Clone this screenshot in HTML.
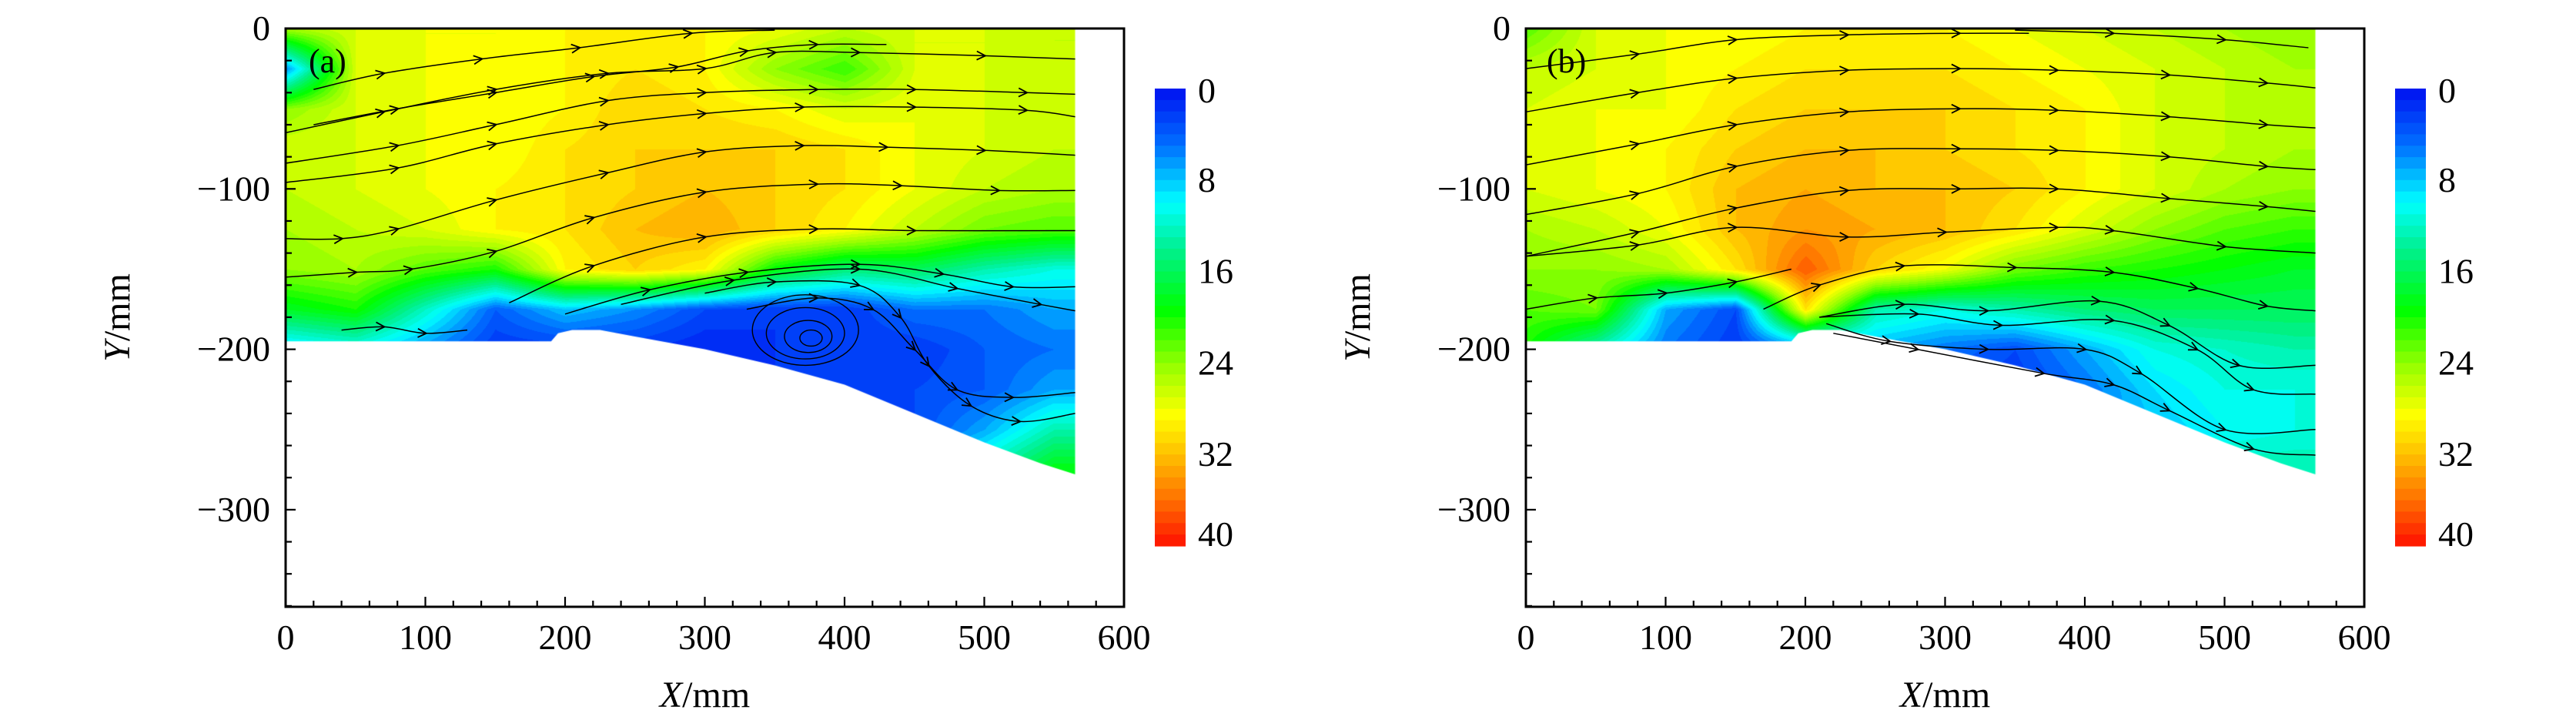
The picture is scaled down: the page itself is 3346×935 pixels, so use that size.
<!DOCTYPE html>
<html><head><meta charset="utf-8">
<style>
html,body{margin:0;padding:0;background:#fff;}
#root{position:relative;width:3346px;height:935px;overflow:hidden;font-family:"Liberation Serif",serif;}
canvas{position:absolute;}
svg{position:absolute;left:0;top:0;}
</style></head>
<body>
<div id="root">
<canvas id="cva" width="1090" height="752" style="left:371px;top:37px"></canvas>
<canvas id="cvb" width="1090" height="752" style="left:1982px;top:37px"></canvas>
<svg id="svg" width="3346" height="935"></svg>
</div>
<script>
// ---- data ----
const gridX = [0,50,100,150,200,250,300,350,400,450,500,550,600];
const gridY = [0,-25,-50,-75,-100,-125,-150,-175,-200,-225,-250,-275];
const speedA = [
 [25,27,28,28,29,29,29,28,26,27,27,26,26],
 [6,27,28,28,29,30,29,24,21,27,27,26,26],
 [24,27,28,28,29,31,30,29,27,28,27,26,26],
 [27,27,28,28,30,31,31,31,30,28,27,26,26],
 [26,27,28,29,30,31,32,31,30,28,26,25,25],
 [25,26,27,29,30,32,33,31,29,26,23,22,22],
 [24,25,22,20,29,31,29,19,15,16,13,11,11],
 [18,20,12,4,8,6,3,2,2,5,5,7,7],
 [8,10,6,2,2,2,1,2,2,2,4,5,5],
 [2,2,2,2,2,2,2,2,2,3,4,7,7],
 [2,2,2,2,2,2,2,2,2,3,7,13,13],
 [2,2,2,2,2,2,2,2,2,5,13,19,19]];
const speedB = [
 [22,27,28,28,29,29,29,28,27,26,25,24,24],
 [26,27,28,29,30,30,30,29,28,27,26,25,25],
 [27,28,28,30,31,31,31,30,29,27,26,25,25],
 [27,28,29,31,32,32,31,30,29,27,26,25,25],
 [27,28,29,32,33,32,32,31,29,27,25,24,24],
 [25,26,28,32,34,33,32,30,27,24,22,21,21],
 [24,24,25,30,37,31,28,23,21,20,19,18,18],
 [22,23,7,3,30,13,11,13,15,16,16,16,16],
 [20,12,5,2,5,7,5,3,7,11,12,13,13],
 [10,8,4,2,3,5,3,2,5,9,11,11,11],
 [8,6,4,3,3,5,5,4,5,8,10,11,11],
 [8,6,4,3,3,5,5,5,7,11,13,13,13]];
const boundary = [[0,0],[565,0],[565,-278],[540,-271],[500,-258],[450,-240],[400,-222],[350,-210],[300,-200],[250,-192],[225,-188],[205,-188],[195,-190],[190,-195],[0,-195]];
const streamsA = [
 [[20,-38],[70,-28],[140,-19],[210,-12],[290,-3],[350,-1]],
 [[20,-60],[80,-50],[150,-40],[220,-30],[280,-24],[330,-14],[380,-10],[430,-10]],
 [[0,-65],[70,-52],[150,-38],[230,-28],[300,-25],[350,-15],[410,-15],[500,-17],[565,-19]],
 [[0,-84],[80,-73],[150,-60],[230,-45],[300,-40],[380,-38],[450,-38],[530,-40],[565,-41]],
 [[0,-96],[80,-87],[150,-72],[230,-60],[300,-53],[370,-49],[450,-49],[530,-51],[565,-55]],
 [[0,-131],[40,-131],[80,-125],[150,-107],[230,-90],[300,-77],[370,-73],[430,-74],[500,-76],[565,-79]],
 [[0,-155],[50,-152],[90,-150],[150,-139],[220,-118],[300,-102],[380,-97],[440,-98],[510,-101],[565,-101]],
 [[160,-171],[220,-148],[300,-130],[380,-125],[450,-126],[565,-126]],
 [[200,-178],[260,-163],[330,-152],[410,-147],[470,-153],[520,-161],[565,-161]],
 [[240,-172],[320,-157],[410,-150],[480,-162],[540,-172],[565,-176]],
 [[300,-165],[350,-158],[410,-160],[440,-180],[460,-210],[490,-235],[525,-245],[565,-240]],
 [[330,-175],[380,-168],[420,-175],[450,-200],[480,-225],[520,-230],[565,-227]],
 [[40,-188],[70,-186],[100,-190],[130,-188]]];
const vortexA = [[372,-188,38,22],[372,-190,28,16],[374,-192,17,10],[376,-193,8,5]];
const streamsB = [
 [[0,-25],[80,-16],[150,-7],[230,-4],[310,-3],[360,-3]],
 [[350,-1],[420,-3],[500,-7],[560,-12]],
 [[0,-52],[80,-40],[150,-31],[230,-26],[310,-25],[380,-26],[460,-29],[530,-34],[565,-37]],
 [[0,-85],[80,-72],[150,-60],[230,-52],[310,-50],[380,-51],[460,-55],[530,-60],[565,-62]],
 [[0,-116],[80,-103],[150,-86],[230,-76],[310,-75],[380,-76],[460,-80],[530,-86],[565,-88]],
 [[0,-142],[80,-127],[150,-112],[230,-101],[310,-100],[380,-100],[460,-106],[530,-111],[565,-114]],
 [[0,-142],[80,-135],[150,-124],[230,-130],[300,-127],[380,-124],[420,-126],[500,-136],[565,-140]],
 [[0,-175],[50,-168],[100,-165],[150,-158],[190,-150]],
 [[170,-175],[210,-160],[270,-148],[350,-149],[420,-152],[480,-162],[530,-173],[565,-176]],
 [[210,-180],[270,-172],[330,-176],[410,-170],[460,-185],[510,-210],[565,-210]],
 [[210,-180],[280,-178],[340,-185],[420,-182],[480,-200],[520,-225],[565,-228]],
 [[215,-184],[260,-195],[330,-200],[400,-200],[440,-215],[500,-250],[565,-250]],
 [[220,-190],[280,-200],[370,-215],[420,-222],[460,-238],[520,-262],[565,-266]]];
const xTicks = [0,100,200,300,400,500,600];
const yTicks = [0,-100,-200,-300];
const cbTicks = [0,8,16,24,32,40];
const cmapStops = [[0,'#0010f0'],[5,'#0070ff'],[10,'#00ffff'],[14,'#00f090'],[19.4,'#00ff00'],[24,'#90ff00'],[28.6,'#ffff00'],[32,'#ffc000'],[36,'#ff7000'],[40,'#ff1000']];

// ---- geometry ----
const SX = 1.815, SY = 2.083, TOP = 37, W = 1089, H = 751;
const panels = [
 {id:'a', x0:371, cv:'cva', data:speedA, streams:streamsA, vort:vortexA, label:'(a)', cbx:1500, cbl:1556},
 {id:'b', x0:1982, cv:'cvb', data:speedB, streams:streamsB, vort:[], label:'(b)', cbx:3111, cbl:3167}];

function hex(c){return [parseInt(c.substr(1,2),16),parseInt(c.substr(3,2),16),parseInt(c.substr(5,2),16)];}
const stopsRGB = cmapStops.map(s=>[s[0],hex(s[1])]);
function cmap(v){
  v = Math.max(0,Math.min(40,v));
  for(let i=0;i<stopsRGB.length-1;i++){
    const a=stopsRGB[i], b=stopsRGB[i+1];
    if(v<=b[0]){const t=(v-a[0])/(b[0]-a[0]);return [0,1,2].map(k=>Math.round(a[1][k]+(b[1][k]-a[1][k])*t));}
  }
  return stopsRGB[stopsRGB.length-1][1];
}
function sample(data,x,y){
  let fx=Math.max(0,Math.min(gridX.length-1.001,x/50));
  let fy=Math.max(0,Math.min(gridY.length-1.001,-y/25));
  const i=Math.floor(fx), j=Math.floor(fy), tx=fx-i, ty=fy-j;
  const a=data[j][i], b=data[j][i+1], c=data[j+1][i], d=data[j+1][i+1];
  return (a*(1-tx)+b*tx)*(1-ty)+(c*(1-tx)+d*tx)*ty;
}

const svg = document.getElementById('svg');
const NS = 'http://www.w3.org/2000/svg';
function el(tag, attrs, parent){const e=document.createElementNS(NS,tag);for(const k in attrs)e.setAttribute(k,attrs[k]);(parent||svg).appendChild(e);return e;}

const defs = el('defs',{});
const mk = el('marker',{id:'arr',viewBox:'0 0 10 10',refX:'8',refY:'5',markerWidth:'14',markerHeight:'14',orient:'auto',markerUnits:'userSpaceOnUse'},defs);
el('path',{d:'M1,1 L9,5 L1,9',fill:'none',stroke:'#000','stroke-width':'1.3'},mk);

function smoothPath(pts){
  let d='M'+pts[0][0].toFixed(1)+','+pts[0][1].toFixed(1);
  for(let i=0;i<pts.length-1;i++){
    const p0=pts[Math.max(0,i-1)],p1=pts[i],p2=pts[i+1],p3=pts[Math.min(pts.length-1,i+2)];
    const c1=[p1[0]+(p2[0]-p0[0])/6,p1[1]+(p2[1]-p0[1])/6];
    const c2=[p2[0]-(p3[0]-p1[0])/6,p2[1]-(p3[1]-p1[1])/6];
    d+=' C'+c1[0].toFixed(1)+','+c1[1].toFixed(1)+' '+c2[0].toFixed(1)+','+c2[1].toFixed(1)+' '+p2[0].toFixed(1)+','+p2[1].toFixed(1);
  }
  return d;
}

panels.forEach(P=>{
  const px = x=>P.x0 + x*SX, py = y=>TOP - y*SY;
  const cv=document.getElementById(P.cv), ctx=cv.getContext('2d');
  const img=ctx.createImageData(cv.width,cv.height);
  for(let j=0;j<cv.height;j++){
    const y=-j/SY;
    for(let i=0;i<cv.width;i++){
      const x=i/SX;
      const v=Math.floor(sample(P.data,x,y))+0.5;
      const c=cmap(v), o=(j*cv.width+i)*4;
      img.data[o]=c[0];img.data[o+1]=c[1];img.data[o+2]=c[2];img.data[o+3]=255;
    }
  }
  const tmp=document.createElement('canvas');tmp.width=cv.width;tmp.height=cv.height;
  tmp.getContext('2d').putImageData(img,0,0);
  ctx.beginPath();
  boundary.forEach((b,k)=>{const X=b[0]*SX,Y=-b[1]*SY;k?ctx.lineTo(X,Y):ctx.moveTo(X,Y);});
  ctx.closePath();ctx.clip();ctx.drawImage(tmp,0,0);

  const g = el('g',{});
  
  
  P.streams.forEach((s,k)=>{
    const p=el('path',{d:smoothPath(s.map(q=>[px(q[0]),py(q[1])])),fill:'none',stroke:'#000','stroke-width':'1.5','marker-mid':'url(#arr)'},g);
    
    
  });
  P.vort.forEach((v,k)=>{
    const e=el('ellipse',{cx:px(v[0]),cy:py(v[1]),rx:v[2]*SX,ry:v[3]*SY,fill:'none',stroke:'#000','stroke-width':'1.4'},g);
    
    
  });
  const fr=el('rect',{x:P.x0,y:TOP,width:W,height:H,fill:'none',stroke:'#000','stroke-width':'3'},g);
  
  
  for(let x=0;x<=600;x+=20){
    const major = x%100===0;
    el('line',{x1:px(x),x2:px(x),y1:TOP+H,y2:TOP+H-(major?13:8),stroke:'#000','stroke-width':'2.2'},g);
  }
  xTicks.forEach(x=>{
    const t=el('text',{x:px(x),y:843,'font-size':'46','text-anchor':'middle'},g);t.textContent=x;
    
    
  });
  for(let y=0;y>=-360;y-=20){
    const major = y%100===0;
    el('line',{x1:P.x0,x2:P.x0+(major?13:8),y1:py(y),y2:py(y),stroke:'#000','stroke-width':'2.2'},g);
  }
  yTicks.forEach(y=>{
    const t=el('text',{x:P.x0-20,y:py(y)+15,'font-size':'46','text-anchor':'end'},g);
    t.textContent = y===0?'0':'\u2212'+(-y);
    
    
  });
  const xl=el('text',{x:P.x0+W/2,y:918,'font-size':'48','text-anchor':'middle'},g);
  xl.innerHTML='<tspan font-style="italic">X</tspan>/mm';
  
  
  const yl=el('text',{x:0,y:0,'font-size':'48','text-anchor':'middle',transform:'translate('+(P.x0-203)+','+(TOP+H/2)+') rotate(-90)'},g);
  yl.innerHTML='<tspan font-style="italic">Y</tspan>/mm';
  
  
  const pl=el('text',{x:P.x0+ (P.id==='a'?30:27),y:94,'font-size':'44'},g);
  pl.textContent=P.label;
  
  
  const cb=el('g',{},g);
  
  
  const cbTop=115, cbH=594, n=40;
  for(let k=0;k<n;k++){
    const c=cmap(k+0.5);
    el('rect',{x:P.cbx,y:cbTop+k*cbH/n,width:40,height:cbH/n+0.6,fill:'rgb('+c.join(',')+')'},cb);
  }
  cbTicks.forEach(v=>{
    const t=el('text',{x:P.cbl,y:cbTop+v/40*cbH+(v===0?18:v===40?0:15),'font-size':'46'},cb);
    t.textContent=v;
    
    
  });
});
</script>
</body></html>
